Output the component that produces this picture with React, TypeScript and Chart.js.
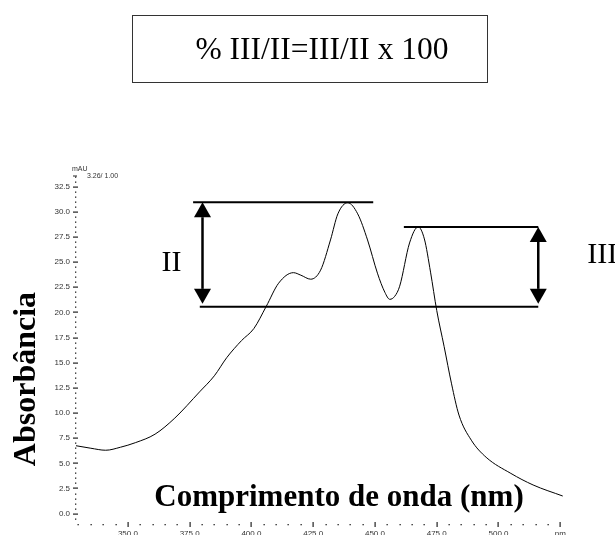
import React, { useEffect, useRef } from 'react';
import { Chart, registerables } from 'chart.js';

Chart.register(...registerables);

// ---- Data ----
const wavelengthNm = [
  329, 335, 341, 347, 353, 361, 369, 379, 385, 390, 396, 401, 406, 411, 417, 420,
  424, 428, 432, 435, 439, 443, 447, 451, 454, 456, 458, 460, 464, 467.5, 470,
  472.5, 475, 478, 481, 484, 489, 495, 505, 514, 526,
];
const absorbanceMAU = [
  6.75, 6.5, 6.3, 6.6, 7.05, 7.9, 9.5, 12.1, 13.7, 15.5, 17.2, 18.4, 20.6, 22.9, 23.95, 23.7,
  23.3, 24.2, 27.2, 29.8, 30.9, 29.8, 27.2, 23.9, 22.0, 21.3, 21.6, 22.6, 26.9, 28.5, 27.3,
  24.0, 20.2, 16.6, 12.9, 9.8, 7.3, 5.6, 4.0, 2.85, 1.75,
];

const xMajorTicks = [350, 375, 400, 425, 450, 475, 500, 525];
const xTickLabels = ['350.0', '375.0', '400.0', '425.0', '450.0', '475.0', '500.0', 'nm'];
const xMinorTicks = [330, 335, 340, 345, 350, 355, 360, 365, 370, 375, 380, 385, 390, 395, 400, 405, 410, 415, 420, 425, 430, 435, 440, 445, 450, 455, 460, 465, 470, 475, 480, 485, 490, 495, 500, 505, 510, 515, 520, 525];
const yMajorTicks = [0, 2.5, 5, 7.5, 10, 12.5, 15, 17.5, 20, 22.5, 25, 27.5, 30, 32.5];
const yTickLabels = ['0.0', '2.5', '5.0', '7.5', '10.0', '12.5', '15.0', '17.5', '20.0', '22.5', '25.0', '27.5', '30.0', '32.5'];
const yMinorStep = 0.5;

const unitLabel = 'mAU';
const scaleNote = '3.26/ 1.00';
const xTitle = 'Comprimento de onda (nm)';
const yTitle = 'Absorbância';
const formula = '% III/II=III/II x 100';

// Annotation levels (data coordinates)
const peakIILevel = 30.95;
const peakIIILevel = 28.5;
const baselineLevel = 20.55;
const peakIILineNm = [376.4, 449.3];
const peakIIILineNm = [461.7, 516.1];
const baselineLineNm = [379.1, 516.1];
const arrowIINm = 380.2;
const arrowIIINm = 516.1;
const labelII = 'II';
const labelIII = 'III';

const SERIF = '"Liberation Serif", "Times New Roman", serif';
const SANS = '"Liberation Sans", Arial, sans-serif';

const decorPlugin = {
  id: 'decor',
  afterDraw(chart: any) {
    const { ctx, chartArea } = chart;
    const xs = chart.scales.x;
    const ys = chart.scales.y;
    ctx.save();

    // y axis dotted ticks
    ctx.fillStyle = '#222';
    ctx.strokeStyle = '#222';
    ctx.lineWidth = 1;
    const ax = chartArea.left - 1;
    for (let i = -1; i <= 67; i++) {
      const v = i * yMinorStep;
      const py = Math.round(ys.getPixelForValue(v));
      const major = Math.abs(v / 2.5 - Math.round(v / 2.5)) < 1e-6 && v >= 0 && v <= 32.5;
      if (major) {
        ctx.fillRect(ax - 2, py - 0.5, 5, 1.2);
      } else {
        ctx.fillRect(ax, py - 0.5, 1.3, 1.3);
      }
    }
    const noteY = Math.round(ys.getPixelForValue(33.6));
    ctx.fillRect(ax - 2, noteY - 0.5, 4, 1);

    // x axis dotted ticks
    const ay = Math.round(chartArea.bottom);
    xMinorTicks.forEach((v) => {
      const px = Math.round(xs.getPixelForValue(v));
      if (xMajorTicks.includes(v)) {
        ctx.fillRect(px - 0.5, ay - 2, 1.2, 5);
      } else {
        ctx.fillRect(px - 0.5, ay, 1.3, 1.3);
      }
    });

    // unit label
    ctx.fillStyle = '#333';
    ctx.font = `7px ${SANS}`;
    ctx.textBaseline = 'middle';
    ctx.textAlign = 'left';
    ctx.fillText(unitLabel, chartArea.left - 4, noteY - 7);
    ctx.fillText(scaleNote, chartArea.left + 11, noteY);

    // annotation lines
    ctx.strokeStyle = '#000';
    ctx.fillStyle = '#000';
    ctx.lineWidth = 2;
    const hline = (range: number[], level: number) => {
      const py = ys.getPixelForValue(level);
      ctx.beginPath();
      ctx.moveTo(xs.getPixelForValue(range[0]), py);
      ctx.lineTo(xs.getPixelForValue(range[1]), py);
      ctx.stroke();
    };
    hline(peakIILineNm, peakIILevel);
    hline(peakIIILineNm, peakIIILevel);
    hline(baselineLineNm, baselineLevel);

    const arrow = (nm: number, top: number, bottom: number) => {
      const px = xs.getPixelForValue(nm);
      const yt = ys.getPixelForValue(top);
      const yb = ys.getPixelForValue(bottom) - 3;
      const hw = 8.5;
      const hh = 15;
      ctx.lineWidth = 2.5;
      ctx.beginPath();
      ctx.moveTo(px, yt + hh);
      ctx.lineTo(px, yb - hh);
      ctx.stroke();
      ctx.beginPath();
      ctx.moveTo(px, yt);
      ctx.lineTo(px - hw, yt + hh);
      ctx.lineTo(px + hw, yt + hh);
      ctx.closePath();
      ctx.fill();
      ctx.beginPath();
      ctx.moveTo(px, yb);
      ctx.lineTo(px - hw, yb - hh);
      ctx.lineTo(px + hw, yb - hh);
      ctx.closePath();
      ctx.fill();
    };
    arrow(arrowIINm, peakIILevel, baselineLevel);
    arrow(arrowIIINm, peakIIILevel, baselineLevel);

    // labels II / III
    ctx.font = `30px ${SERIF}`;
    ctx.textBaseline = 'alphabetic';
    ctx.textAlign = 'right';
    const iiY = (ys.getPixelForValue(peakIILevel) + ys.getPixelForValue(baselineLevel)) / 2 + 16;
    ctx.fillText(labelII, xs.getPixelForValue(arrowIINm) - 21, iiY);
    ctx.textAlign = 'left';
    const iiiY = (ys.getPixelForValue(peakIIILevel) + ys.getPixelForValue(baselineLevel)) / 2 - 4;
    ctx.fillText(labelIII, xs.getPixelForValue(arrowIIINm) + 49, iiiY);

    // axis titles
    ctx.font = `bold 31px ${SERIF}`;
    ctx.textAlign = 'center';
    ctx.fillText(xTitle, 339, 506);
    ctx.save();
    ctx.font = `bold 32px ${SERIF}`;
    ctx.translate(35, 379);
    ctx.rotate(-Math.PI / 2);
    ctx.fillText(yTitle, 0, 0);
    ctx.restore();

    ctx.restore();
  },
};

export default function App() {
  const canvasRef = useRef<HTMLCanvasElement | null>(null);

  useEffect(() => {
    const canvas = canvasRef.current;
    if (!canvas) return;
    const chart = new Chart(canvas, {
      type: 'line',
      data: {
        datasets: [
          {
            data: wavelengthNm.map((w, i) => ({ x: w, y: absorbanceMAU[i] })),
            borderColor: '#000',
            borderWidth: 1,
            pointRadius: 0,
            cubicInterpolationMode: 'monotone',
            fill: false,
          },
        ],
      },
      options: {
        responsive: false,
        animation: false,
        devicePixelRatio: 1,
        layout: { padding: { left: 54, top: 181.6, right: 49.8, bottom: 0 } },
        plugins: { legend: { display: false }, tooltip: { enabled: false }, title: { display: false } },
        scales: {
          x: {
            type: 'linear',
            min: 329,
            max: 527,
            grid: { display: false, drawTicks: false },
            border: { display: false },
            afterFit: (s: any) => { s.height = 11.3; },
            afterBuildTicks: (s: any) => { s.ticks = xMajorTicks.map((v) => ({ value: v })); },
            ticks: {
              autoSkip: false,
              maxRotation: 0,
              padding: 5,
              color: '#333',
              font: { family: SANS, size: 8 },
              callback: (v: any) => {
                const i = xMajorTicks.indexOf(Number(v));
                return i >= 0 ? xTickLabels[i] : '';
              },
            },
          },
          y: {
            type: 'linear',
            min: -1,
            max: 33,
            grid: { display: false, drawTicks: false },
            border: { display: false },
            afterFit: (s: any) => { s.width = 22; },
            afterBuildTicks: (s: any) => { s.ticks = yMajorTicks.map((v) => ({ value: v })); },
            ticks: {
              autoSkip: false,
              padding: 6,
              color: '#333',
              font: { family: SANS, size: 8 },
              callback: (v: any) => {
                const i = yMajorTicks.indexOf(Number(v));
                return i >= 0 ? yTickLabels[i] : '';
              },
            },
          },
        },
      },
      plugins: [decorPlugin],
    } as any);
    return () => chart.destroy();
  }, []);

  return (
    <div style={{ position: 'absolute', left: 0, top: 0, width: 615, height: 535, background: '#fff', overflow: 'hidden' }}>
      <canvas ref={canvasRef} width={615} height={535} style={{ position: 'absolute', left: 0, top: 0 }} />
      <div
        style={{
          position: 'absolute',
          left: 132,
          top: 15,
          width: 356,
          height: 68,
          border: '1.5px solid #333',
          display: 'flex',
          alignItems: 'center',
          justifyContent: 'center',
          paddingLeft: 24,
          boxSizing: 'border-box',
          fontFamily: SERIF,
          fontSize: 31.5,
          color: '#000',
        }}
      >
        {formula}
      </div>
    </div>
  );
}
